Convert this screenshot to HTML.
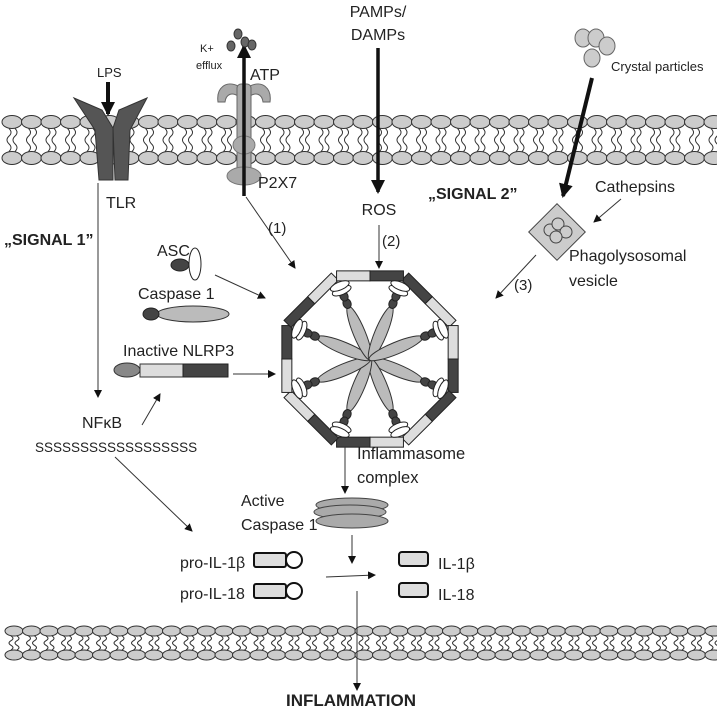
<!DOCTYPE html>
<html><head><meta charset="utf-8"><style>
html,body{margin:0;padding:0;background:#fff}
svg{display:block}
text{font-family:"Liberation Sans",sans-serif;fill:#222}
</style></head><body>
<svg id="s" width="717" height="710" viewBox="0 0 717 710" xmlns="http://www.w3.org/2000/svg">
<defs>
<marker id="a" markerWidth="8" markerHeight="8" refX="7" refY="4" orient="auto" markerUnits="userSpaceOnUse"><path d="M0,0 L8,4 L0,8 z" fill="#111"/></marker>
<marker id="b" markerWidth="14" markerHeight="14" refX="12" refY="7" orient="auto" markerUnits="userSpaceOnUse"><path d="M0,0 L14,7 L0,14 z" fill="#111"/></marker>
</defs>
<g id="mem1"></g>
<g id="mem2"></g>
<g id="infl"></g>

<!-- TLR -->
<path d="M74,98 L102,110 L113,128 L113,180 L99,180 L95,130 Z" fill="#555" stroke="#333"/>
<path d="M147,98 L119,110 L113,128 L115,180 L128,180 L130,130 Z" fill="#555" stroke="#333"/>
<text x="97" y="77" font-size="13">LPS</text>
<line x1="108" y1="82" x2="108" y2="114" stroke="#111" stroke-width="4" marker-end="url(#b)"/>
<text x="106" y="208" font-size="16">TLR</text>
<line x1="98" y1="183" x2="98" y2="397" stroke="#333" stroke-width="1" marker-end="url(#a)"/>
<text x="4" y="245" font-size="16" font-weight="bold">„SIGNAL 1”</text>

<!-- P2X7 -->
<path d="M238,86 C226,80 216,88 218,102 L225,102 C226,94 232,92 238,96 Z M250,86 C262,80 272,88 270,102 L263,102 C262,94 256,92 250,96 Z" fill="#aaa" stroke="#666"/>
<rect x="237" y="84" width="14" height="100" rx="4" fill="#aaa" stroke="#666"/>
<ellipse cx="244" cy="145" rx="11" ry="9" fill="#aaa" stroke="#777"/>
<ellipse cx="244" cy="176" rx="17" ry="9" fill="#aaa" stroke="#777"/>
<line x1="244" y1="196" x2="244" y2="46" stroke="#111" stroke-width="3.5" marker-end="url(#b)"/>
<g fill="#666" stroke="#333"><ellipse cx="238" cy="34" rx="4" ry="5"/><ellipse cx="231" cy="46" rx="4" ry="5"/><ellipse cx="245" cy="42" rx="4" ry="5"/><ellipse cx="252" cy="45" rx="4" ry="5"/></g>
<text x="200" y="52" font-size="11">K+</text>
<text x="196" y="69" font-size="11">efflux</text>
<text x="250" y="80" font-size="16">ATP</text>
<text x="258" y="188" font-size="16">P2X7</text>
<line x1="246" y1="197" x2="295" y2="268" stroke="#333" marker-end="url(#a)"/>
<text x="268" y="233" font-size="15">(1)</text>

<!-- PAMPs -->
<text x="378" y="17" font-size="16" text-anchor="middle">PAMPs/</text>
<text x="378" y="40" font-size="16" text-anchor="middle">DAMPs</text>
<line x1="378" y1="48" x2="378" y2="192" stroke="#111" stroke-width="3.5" marker-end="url(#b)"/>
<text x="379" y="215" font-size="16" text-anchor="middle">ROS</text>
<line x1="379" y1="225" x2="379" y2="268" stroke="#333" marker-end="url(#a)"/>
<text x="382" y="246" font-size="15">(2)</text>
<text x="428" y="199" font-size="16" font-weight="bold">„SIGNAL 2”</text>

<!-- Crystal -->
<g fill="#ccc" stroke="#666"><ellipse cx="583" cy="38" rx="8" ry="9"/><ellipse cx="596" cy="38" rx="8" ry="9"/><ellipse cx="607" cy="46" rx="8" ry="9"/><ellipse cx="592" cy="58" rx="8" ry="9"/></g>
<text x="611" y="71" font-size="13">Crystal particles</text>
<line x1="592" y1="78" x2="563" y2="196" stroke="#111" stroke-width="4" marker-end="url(#b)"/>
<text x="595" y="192" font-size="16">Cathepsins</text>
<line x1="621" y1="199" x2="594" y2="222" stroke="#333" marker-end="url(#a)"/>
<rect x="537" y="212" width="40" height="40" fill="#ccc" stroke="#444" transform="rotate(45 557 232)"/>
<g fill="#ccc" stroke="#444"><circle cx="550" cy="230" r="6"/><circle cx="558" cy="224" r="6"/><circle cx="566" cy="232" r="6"/><circle cx="556" cy="237" r="6"/></g>
<text x="569" y="261" font-size="16">Phagolysosomal</text>
<text x="569" y="286" font-size="16">vesicle</text>
<line x1="536" y1="255" x2="496" y2="298" stroke="#333" marker-end="url(#a)"/>
<text x="514" y="290" font-size="15">(3)</text>

<!-- left components -->
<text x="157" y="256" font-size="16">ASC</text>
<ellipse cx="180" cy="265" rx="9" ry="6" fill="#444" stroke="#222"/>
<ellipse cx="195" cy="264" rx="6" ry="16" fill="#fff" stroke="#222"/>
<line x1="215" y1="275" x2="265" y2="298" stroke="#333" marker-end="url(#a)"/>
<text x="138" y="299" font-size="16">Caspase 1</text>
<ellipse cx="193" cy="314" rx="36" ry="8" fill="#bbb" stroke="#333"/>
<ellipse cx="151" cy="314" rx="8" ry="6" fill="#444" stroke="#222"/>
<text x="123" y="356" font-size="16">Inactive NLRP3</text>
<ellipse cx="127" cy="370" rx="13" ry="7" fill="#888" stroke="#333"/>
<rect x="140" y="364" width="43" height="13" fill="#ddd" stroke="#333"/>
<rect x="183" y="364" width="45" height="13" fill="#444" stroke="#222"/>
<line x1="233" y1="374" x2="275" y2="374" stroke="#333" marker-end="url(#a)"/>
<text x="82" y="428" font-size="16">NFκB</text>
<text x="35" y="452" font-size="13.5">SSSSSSSSSSSSSSSSSS</text>
<line x1="142" y1="425" x2="160" y2="394" stroke="#333" marker-end="url(#a)"/>
<line x1="115" y1="457" x2="192" y2="531" stroke="#333" marker-end="url(#a)"/>

<!-- lower -->
<text x="357" y="459" font-size="16.5">Inflammasome</text>
<text x="357" y="483" font-size="16.5">complex</text>
<line x1="345" y1="447" x2="345" y2="493" stroke="#333" marker-end="url(#a)"/>
<text x="241" y="506" font-size="16">Active</text>
<text x="241" y="530" font-size="16">Caspase 1</text>
<g fill="#aaa" stroke="#444"><ellipse cx="352" cy="505" rx="36" ry="7"/><ellipse cx="350" cy="512" rx="36" ry="7"/><ellipse cx="352" cy="521" rx="36" ry="7"/></g>
<text x="180" y="568" font-size="16">pro-IL-1β</text>
<text x="180" y="599" font-size="16">pro-IL-18</text>
<g fill="#ddd" stroke="#111" stroke-width="2"><rect x="254" y="553" width="32" height="14" rx="2"/><rect x="254" y="584" width="32" height="14" rx="2"/></g>
<g fill="#fff" stroke="#111" stroke-width="2"><circle cx="294" cy="560" r="8"/><circle cx="294" cy="591" r="8"/></g>
<line x1="352" y1="535" x2="352" y2="563" stroke="#333" marker-end="url(#a)"/>
<line x1="326" y1="577" x2="375" y2="575" stroke="#333" marker-end="url(#a)"/>
<g fill="#ddd" stroke="#111" stroke-width="2"><rect x="399" y="552" width="29" height="14" rx="3"/><rect x="399" y="583" width="29" height="14" rx="3"/></g>
<text x="438" y="569" font-size="16">IL-1β</text>
<text x="438" y="600" font-size="16">IL-18</text>
<line x1="357" y1="591" x2="357" y2="690" stroke="#333" marker-end="url(#a)"/>
<text x="286" y="706" font-size="17" font-weight="bold">INFLAMMATION</text>
</svg>
<script>
var NS="http://www.w3.org/2000/svg";
function el(p,t,a){var e=document.createElementNS(NS,t);for(var k in a)e.setAttribute(k,a[k]);p.appendChild(e);return e;}
function mem(g,y1,y2,rx,ry,step,x0){
  for(var x=x0;x<720;x+=step){
    var d="";
    [-3,3].forEach(function(o){
      var xx=x+o;d+="M"+xx+","+(y1+ry);
      var n=3,h=(y2-y1-2*ry)/n;
      for(var i=1;i<=n;i++){d+=" Q"+(xx+(i%2?4:-4))+","+(y1+ry+h*i-h/2)+" "+xx+","+(y1+ry+h*i);}
    });
    el(g,"path",{d:d,fill:"none",stroke:"#333","stroke-width":"1"});
    el(g,"ellipse",{cx:x,cy:y1,rx:rx,ry:ry,fill:"#ccc",stroke:"#333"});
    el(g,"ellipse",{cx:x,cy:y2,rx:rx,ry:ry,fill:"#ccc",stroke:"#333"});
  }
}
mem(document.getElementById("mem1"),122,158,10,6.5,19.5,12);
mem(document.getElementById("mem2"),631,655,9,5,17.5,14);
var g=document.getElementById("infl"),cx=370,cy=359,R=90;
for(var k=0;k<8;k++){
  var a1=(k*45-90+22.5)*Math.PI/180,a2=((k+1)*45-90+22.5)*Math.PI/180;
  var x1=cx+R*Math.cos(a1),y1=cy+R*Math.sin(a1),x2=cx+R*Math.cos(a2),y2=cy+R*Math.sin(a2);
  var mx=(x1+x2)/2,my=(y1+y2)/2,ang=Math.atan2(y2-y1,x2-x1)*180/Math.PI,L=Math.hypot(x2-x1,y2-y1)-2;
  var gg=el(g,"g",{transform:"translate("+mx+","+my+") rotate("+ang+")"});
  el(gg,"rect",{x:-L/2,y:-5,width:L/2,height:10,fill:(k%2?"#ddd":"#444"),stroke:"#222"});
  el(gg,"rect",{x:0,y:-5,width:L/2,height:10,fill:(k%2?"#444":"#ddd"),stroke:"#222"});
}
for(var k=0;k<8;k++){
  var ang=k*45+22.5;
  var gg=el(g,"g",{transform:"translate("+cx+","+cy+") rotate("+ang+")"});
  el(gg,"ellipse",{cx:28,cy:0,rx:29,ry:6,fill:"#bbb",stroke:"#333"});
  el(gg,"ellipse",{cx:60,cy:0,rx:5,ry:4,fill:"#444",stroke:"#222"});
  el(gg,"ellipse",{cx:68,cy:0,rx:5,ry:4,fill:"#444",stroke:"#222"});
  el(gg,"ellipse",{cx:74,cy:0,rx:4,ry:10,fill:"#fff",stroke:"#222"});
  el(gg,"ellipse",{cx:79,cy:0,rx:4,ry:10,fill:"#fff",stroke:"#222"});
}
</script>
</body></html>
